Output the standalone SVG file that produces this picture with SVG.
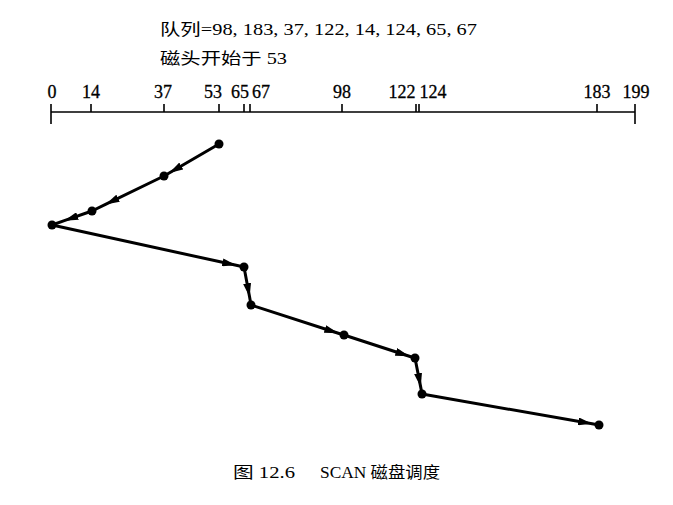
<svg xmlns="http://www.w3.org/2000/svg" width="673" height="505" viewBox="0 0 673 505">
<style>
.t{font-family:"Liberation Serif","Noto Sans CJK SC",serif;fill:#000}
.num{font-family:"Liberation Serif",serif;font-size:18px;fill:#000;stroke:#000;stroke-width:0.3;text-anchor:middle}
.axis{stroke:#000;stroke-width:1.6;fill:none}
.seg{stroke:#000;stroke-width:3;fill:none;marker-mid:url(#arr)}
.dot{fill:#000}
</style>
<defs>
<marker id="arr" markerUnits="userSpaceOnUse" markerWidth="14" markerHeight="8" viewBox="0 0 14 8" refX="14" refY="4" orient="auto">
<path d="M0,0 L14,4 L0,8 z" fill="#000"/>
</marker>
</defs>
<rect width="673" height="505" fill="#fff"/>
<g id="title">
<text class="t" x="160" y="35" font-size="16" textLength="317" lengthAdjust="spacingAndGlyphs">队列=98, 183, 37, 122, 14, 124, 65, 67</text>
<text class="t" x="160" y="64" font-size="16" textLength="127" lengthAdjust="spacingAndGlyphs">磁头开始于 53</text>
</g>
<g id="axis">
<path class="axis" d="M51,112 H635 M51,104 V124 M635,104 V124 M91,104 V112 M164,104 V112 M219,104 V112 M244,104 V112 M250,104 V112 M342,104 V112 M416,104 V112 M419,104 V112 M597,104 V112"/>
<text class="num" x="52" y="98">0</text>
<text class="num" x="91" y="98">14</text>
<text class="num" x="163" y="98">37</text>
<text class="num" x="213" y="98">53</text>
<text class="num" x="240" y="98">65</text>
<text class="num" x="261" y="98">67</text>
<text class="num" x="342" y="98">98</text>
<text class="num" x="402" y="98">122</text>
<text class="num" x="433" y="98">124</text>
<text class="num" x="597" y="98">183</text>
<text class="num" x="636" y="98">199</text>
</g>
<g id="connectors">
<path class="seg" d="M219,144 L169.2,173 L164,176"/>
<path class="seg" d="M164,176 L105.5,204.4 L92,211"/>
<path class="seg" d="M92,211 L64.3,220.7 L52,225"/>
<path class="seg" d="M52,225 L236.2,265.3 L244,267"/>
<path class="seg" d="M244,267 L249.6,297.1 L251,305"/>
<path class="seg" d="M251,305 L338.3,333.2 L344,335"/>
<path class="seg" d="M344,335 L409.3,356.2 L415,358"/>
<path class="seg" d="M415,358 L420.7,387.1 L422,394"/>
<path class="seg" d="M422,394 L592.1,423.8 L599,425"/>
</g>
<g id="n53"><circle class="dot" cx="219" cy="144" r="4.5"/></g>
<g id="n37"><circle class="dot" cx="164" cy="176" r="4.5"/></g>
<g id="n14"><circle class="dot" cx="92" cy="211" r="4.5"/></g>
<g id="n0"><circle class="dot" cx="52" cy="225" r="4.5"/></g>
<g id="n65"><circle class="dot" cx="244" cy="267" r="4.5"/></g>
<g id="n67"><circle class="dot" cx="251" cy="305" r="4.5"/></g>
<g id="n98"><circle class="dot" cx="344" cy="335" r="4.5"/></g>
<g id="n122"><circle class="dot" cx="415" cy="358" r="4.5"/></g>
<g id="n124"><circle class="dot" cx="422" cy="394" r="4.5"/></g>
<g id="n183"><circle class="dot" cx="599" cy="425" r="4.5"/></g>
<g id="caption">
<text class="t" x="233" y="478" font-size="16" textLength="62" lengthAdjust="spacingAndGlyphs">图 12.6</text>
<text class="t" x="320" y="478" font-size="16" textLength="120" lengthAdjust="spacingAndGlyphs">SCAN 磁盘调度</text>
</g>
</svg>
